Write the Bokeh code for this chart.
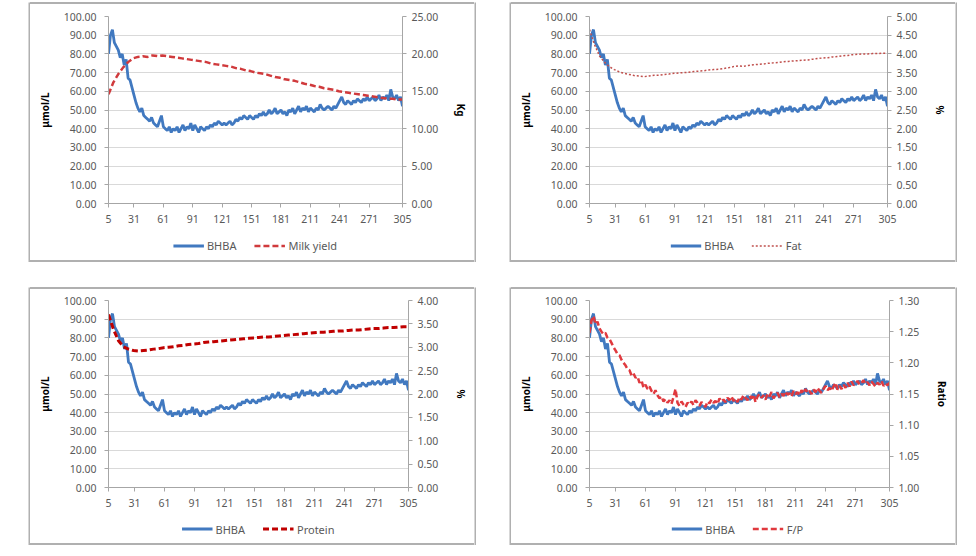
from bokeh.plotting import figure
from bokeh.models import (Range1d, LinearAxis, FixedTicker, NumeralTickFormatter,
                          Legend, LegendItem, Spacer, Div)
from bokeh.layouts import row, column
from bokeh.embed import file_html
from bokeh.resources import INLINE

# ---------------- data ----------------
days_fine = list(range(5, 306, 2))      # days in milk (BHBA, F/P)
days_smooth = list(range(5, 306, 5))    # days in milk (yield, fat, protein)

bhba = [
    80, 90, 93, 86, 84, 82, 78, 80, 74, 77,
    67, 66, 62, 58, 54, 51, 49, 51, 47, 46,
    45, 44, 46, 43, 42, 41, 44, 47, 41, 40,
    39, 41, 38, 40, 39, 41, 38, 40, 42, 39,
    41, 40, 43, 39, 42, 40, 38, 41, 40, 39,
    41, 40, 42, 41, 43, 42, 44, 43, 42, 43,
    42, 43, 44, 42, 43, 45, 44, 46, 45, 47,
    46, 45, 47, 46, 45, 47, 46, 48, 47, 49,
    47, 48, 50, 48, 49, 51, 48, 49, 50, 48,
    49, 47, 50, 49, 51, 48, 50, 52, 49, 51,
    50, 52, 49, 51, 50, 49, 51, 50, 53, 51,
    50, 51, 52, 51, 50, 52, 51, 53, 55, 57,
    54, 53, 55, 54, 53, 55, 54, 56, 55, 54,
    56, 55, 57, 55, 56, 57, 55, 56, 58, 55,
    57, 56, 58, 55, 61, 57, 56, 58, 55, 57,
    52,
]

fp_ratio = [
    1.248, 1.268, 1.275, 1.262, 1.266, 1.255, 1.250, 1.246, 1.248, 1.240,
    1.238, 1.232, 1.225, 1.220, 1.214, 1.212, 1.205, 1.200, 1.196, 1.190,
    1.188, 1.180, 1.183, 1.176, 1.178, 1.168, 1.172, 1.160, 1.165, 1.158,
    1.162, 1.155, 1.150, 1.156, 1.148, 1.143, 1.146, 1.138, 1.142, 1.136,
    1.140, 1.134, 1.145, 1.158, 1.136, 1.131, 1.138, 1.133, 1.129, 1.136,
    1.133, 1.138, 1.132, 1.140, 1.136, 1.131, 1.137, 1.134, 1.129, 1.138,
    1.135, 1.141, 1.136, 1.139, 1.134, 1.143, 1.138, 1.141, 1.137, 1.144,
    1.140, 1.146, 1.139, 1.143, 1.137, 1.145, 1.141, 1.148, 1.144, 1.140,
    1.147, 1.143, 1.149, 1.137, 1.146, 1.150, 1.144, 1.148, 1.141, 1.150,
    1.146, 1.153, 1.143, 1.148, 1.152, 1.145, 1.150, 1.147, 1.154, 1.149,
    1.151, 1.146, 1.155, 1.150, 1.153, 1.148, 1.156, 1.151, 1.158, 1.152,
    1.155, 1.150, 1.157, 1.153, 1.160, 1.155, 1.152, 1.158, 1.163, 1.156,
    1.160, 1.155, 1.162, 1.168, 1.157, 1.163, 1.158, 1.165, 1.160, 1.168,
    1.162, 1.170, 1.164, 1.167, 1.171, 1.165, 1.168, 1.172, 1.166, 1.169,
    1.164, 1.170, 1.166, 1.162, 1.168, 1.165, 1.171, 1.163, 1.167, 1.164,
    1.168,
]

milk_yield = [
    14.6, 16.2, 17.3, 18.2, 18.9, 19.4, 19.6, 19.7, 19.6, 19.8,
    19.7, 19.8, 19.7, 19.6, 19.5, 19.4, 19.3, 19.2, 19.1, 19.0,
    18.9, 18.7, 18.6, 18.5, 18.4, 18.3, 18.1, 18.0, 17.8, 17.7,
    17.5, 17.4, 17.3, 17.1, 16.9, 16.8, 16.6, 16.5, 16.4, 16.2,
    16.0, 15.9, 15.7, 15.6, 15.4, 15.3, 15.2, 15.0, 14.9, 14.8,
    14.7, 14.6, 14.5, 14.4, 14.3, 14.2, 14.1, 14.0, 14.0, 13.9,
    13.9,
]

fat = [
    4.65, 4.25, 3.95, 3.78, 3.66, 3.58, 3.52, 3.48, 3.45, 3.42,
    3.41, 3.39, 3.41, 3.43, 3.43, 3.45, 3.46, 3.48, 3.49, 3.50,
    3.51, 3.53, 3.54, 3.55, 3.57, 3.58, 3.59, 3.61, 3.63, 3.66,
    3.68, 3.67, 3.69, 3.71, 3.72, 3.73, 3.75, 3.76, 3.77, 3.79,
    3.80, 3.81, 3.82, 3.83, 3.84, 3.86, 3.88, 3.89, 3.90, 3.92,
    3.93, 3.95, 3.96, 3.98, 3.99, 4.00, 4.00, 4.01, 4.01, 4.02,
    4.02,
]

protein = [
    3.70, 3.38, 3.14, 3.01, 2.96, 2.93, 2.92, 2.93, 2.94, 2.96,
    2.97, 2.99, 3.00, 3.01, 3.03, 3.04, 3.06, 3.07, 3.08, 3.10,
    3.11, 3.12, 3.13, 3.14, 3.15, 3.16, 3.17, 3.18, 3.19, 3.20,
    3.21, 3.22, 3.22, 3.23, 3.24, 3.25, 3.26, 3.27, 3.28, 3.29,
    3.30, 3.31, 3.32, 3.32, 3.33, 3.34, 3.35, 3.35, 3.36, 3.37,
    3.37, 3.38, 3.39, 3.40, 3.40, 3.41, 3.42, 3.42, 3.43, 3.44,
    3.44,
]

x_ticks = [5, 31, 61, 91, 121, 151, 181, 211, 241, 271, 305]
left_ticks = [0, 10, 20, 30, 40, 50, 60, 70, 80, 90, 100]
kg_ticks = [0, 5, 10, 15, 20, 25]
fat_ticks = [0, 0.5, 1.0, 1.5, 2.0, 2.5, 3.0, 3.5, 4.0, 4.5, 5.0]
protein_ticks = [0, 0.5, 1.0, 1.5, 2.0, 2.5, 3.0, 3.5, 4.0]
ratio_ticks = [1.00, 1.05, 1.10, 1.15, 1.20, 1.25, 1.30]

# ---------------- styling ----------------
FONT = "Noto Sans"
TICK_COLOR = "#595959"
AXIS_COLOR = "#a6a6a6"
BORDER_COLOR = "#b0b0b0"
BLUE = "#4179c0"
BOX_W = 448
BW = 2   # panel border width


def style_axis(ax):
    ax.axis_line_color = AXIS_COLOR
    ax.major_tick_line_color = AXIS_COLOR
    ax.major_tick_out = 4
    ax.major_tick_in = 0
    ax.minor_tick_line_color = None
    ax.major_label_text_font = FONT
    ax.major_label_text_font_size = "10.5px"
    ax.major_label_text_color = TICK_COLOR
    ax.axis_label_text_font = FONT
    ax.axis_label_text_font_size = "10px"
    ax.axis_label_text_font_style = "bold"
    ax.axis_label_text_color = "#000000"


def vbar(h):
    b = figure(width=BW, height=h, output_backend="svg", toolbar_location=None,
               x_axis_location=None, y_axis_location=None, min_border=0,
               x_range=Range1d(0, 1), y_range=Range1d(0, 1))
    b.border_fill_color = BORDER_COLOR
    b.background_fill_color = BORDER_COLOR
    b.outline_line_color = None
    b.grid.visible = False
    return b


def hbar(w):
    return Div(text="", width=w, height=BW, margin=0,
               styles={"background-color": BORDER_COLOR})


def make_panel(box_h, top_border, right_border, r_lo, r_hi, r_ticks, r_label,
               sx, sy, sname, scolor, swidth, sdash):
    inner_w = BOX_W - 2 * BW
    inner_h = box_h - 2 * BW
    main_h = top_border + 187 + 27
    leg_h = inner_h - main_h

    p = figure(width=inner_w, height=main_h, output_backend="svg",
               toolbar_location=None,
               x_range=Range1d(5, 305), y_range=Range1d(0, 100),
               min_border_left=78, min_border_right=right_border,
               min_border_top=top_border, min_border_bottom=27)
    p.extra_y_ranges = {"r": Range1d(r_lo, r_hi)}
    p.outline_line_color = None
    p.xgrid.visible = False
    p.ygrid.ticker = FixedTicker(ticks=left_ticks)
    p.ygrid.grid_line_color = "#d9d9d9"
    p.ygrid.grid_line_width = 1

    p.xaxis.ticker = FixedTicker(ticks=x_ticks)
    style_axis(p.xaxis[0])
    p.xaxis.major_label_standoff = 7

    p.yaxis.ticker = FixedTicker(ticks=left_ticks)
    p.yaxis.formatter = NumeralTickFormatter(format="0.00")
    p.yaxis.axis_label = "μmol/L"
    style_axis(p.yaxis[0])
    p.yaxis.major_label_standoff = 8
    p.yaxis.axis_label_standoff = 9

    rax = LinearAxis(y_range_name="r", ticker=FixedTicker(ticks=r_ticks),
                     formatter=NumeralTickFormatter(format="0.00"),
                     axis_label=r_label)
    style_axis(rax)
    rax.major_label_standoff = 5
    rax.axis_label_standoff = 13
    p.add_layout(rax, "right")

    p.line(days_fine, bhba, line_color=BLUE, line_width=2.8)
    p.line(sx, sy, y_range_name="r", line_color=scolor, line_width=swidth,
           line_dash=sdash)

    # legend strip: same series, drawn with a view range that shows none of
    # the data, so only the legend (centred under the chart frame) is visible
    lf = figure(width=inner_w, height=leg_h, output_backend="svg",
                toolbar_location=None, x_axis_location=None, y_axis_location=None,
                x_range=Range1d(-2, -1), y_range=Range1d(-2, -1),
                min_border_left=78, min_border_right=right_border,
                min_border_top=0, min_border_bottom=0)
    lf.outline_line_color = None
    lf.grid.visible = False
    l1 = lf.line(days_fine, bhba, line_color=BLUE, line_width=2.8)
    l2 = lf.line(sx, sy, line_color=scolor, line_width=swidth, line_dash=sdash)
    legend = Legend(items=[LegendItem(label="BHBA", renderers=[l1]),
                           LegendItem(label=sname, renderers=[l2])],
                    orientation="horizontal", location="center",
                    border_line_color=None, background_fill_alpha=0,
                    glyph_width=31, glyph_height=14, label_height=14,
                    label_standoff=3, spacing=18, padding=2, margin=0,
                    label_text_font=FONT, label_text_font_size="11px",
                    label_text_color=TICK_COLOR)
    lf.add_layout(legend)

    inner = column(hbar(inner_w), p, lf, hbar(inner_w))
    return row(vbar(box_h), inner, vbar(box_h))


f1 = make_panel(260, 12, 72, 0, 25, kg_ticks, "Kg",
                days_smooth, milk_yield, "Milk yield", "#d03a3c", 2.5, "6 3")
f2 = make_panel(260, 12, 68, 0, 5, fat_ticks, "%",
                days_smooth, fat, "Fat", "#c0504d", 1.5, "2 2")
f3 = make_panel(258, 11, 66, 0, 4, protein_ticks, "%",
                days_smooth, protein, "Protein", "#c00000", 3, "6 3")
f4 = make_panel(258, 11, 66, 1.0, 1.3, ratio_ticks, "Ratio",
                days_fine, fp_ratio, "F/P", "#e0393e", 2.5, "6 3")

layout = column(
    Spacer(height=2),
    row(Spacer(width=28), f1, Spacer(width=33), f2),
    Spacer(height=25),
    row(Spacer(width=28), f3, Spacer(width=33), f4),
)

open("out.html", "w").write(file_html(layout, INLINE))
